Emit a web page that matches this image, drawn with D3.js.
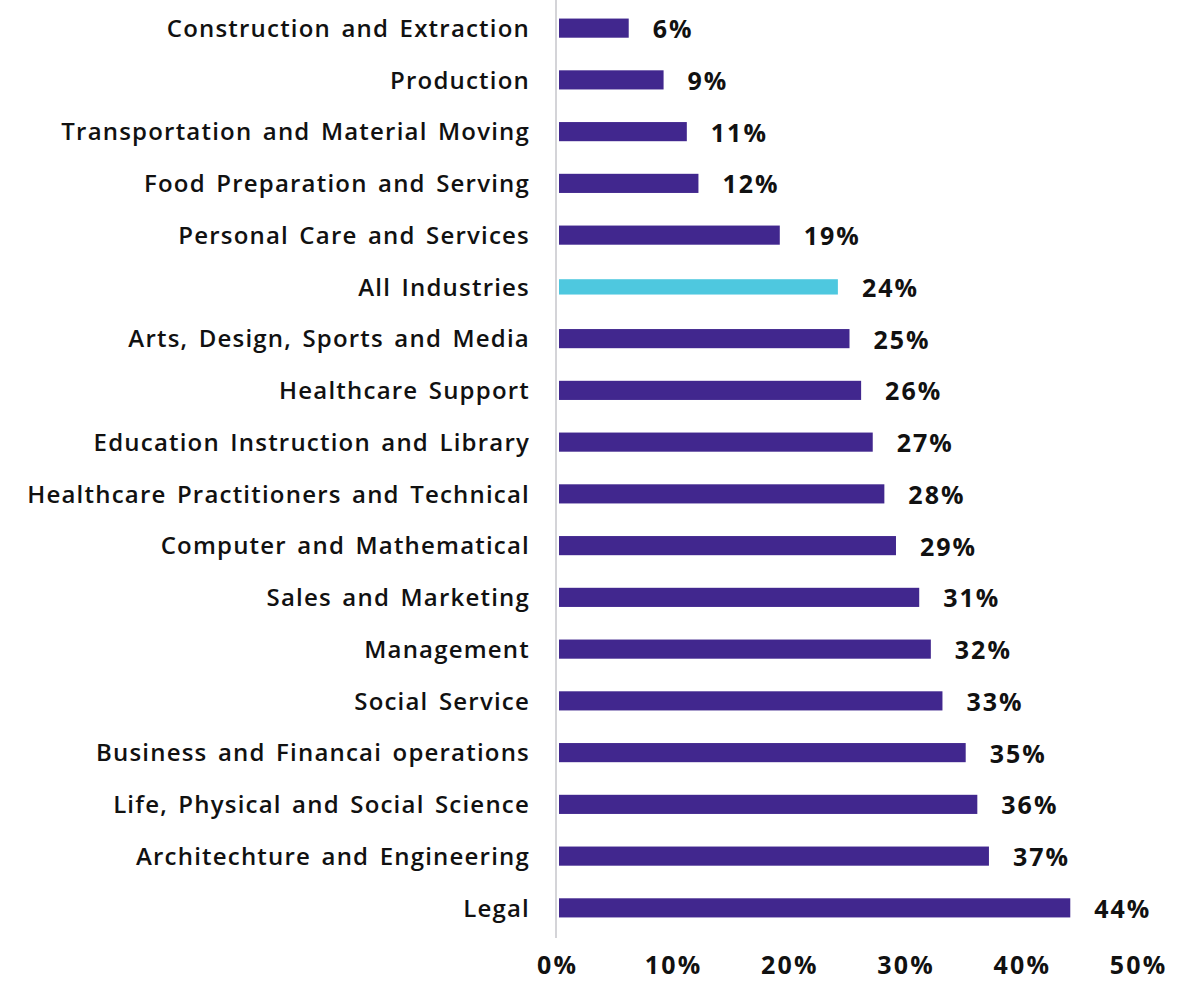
<!DOCTYPE html>
<html>
<head>
<meta charset="utf-8">
<script src="https://cdn.jsdelivr.net/npm/d3@7"></script>
<style>
  html, body { margin: 0; padding: 0; background: #ffffff; }
  svg { display: block; }
  text { font-family: "Open Sans", "Noto Sans", sans-serif; fill: #111111; }
</style>
</head>
<body>
<svg id="chart" width="1198" height="987"></svg>
<script>
// Share of workers by occupation group
const categories = [
  "Construction and Extraction",
  "Production",
  "Transportation and Material Moving",
  "Food Preparation and Serving",
  "Personal Care and Services",
  "All Industries",
  "Arts, Design, Sports and Media",
  "Healthcare Support",
  "Education Instruction and Library",
  "Healthcare Practitioners and Technical",
  "Computer and Mathematical",
  "Sales and Marketing",
  "Management",
  "Social Service",
  "Business and Financai operations",
  "Life, Physical and Social Science",
  "Architechture and Engineering",
  "Legal"
];
const values = [6, 9, 11, 12, 19, 24, 25, 26, 27, 28, 29, 31, 32, 33, 35, 36, 37, 44];
const highlight = ["All Industries"];
const tickValues = [0, 10, 20, 30, 40, 50];

const svg = d3.select("#chart");

const x = d3.scaleLinear().domain([0, 50]).range([559, 1140]);
const y = d3.scaleBand().domain(categories).range([2, 934]).paddingInner(0.63).paddingOuter(0.32);

const PURPLE = "#41278e";
const CYAN = "#4ec8df";

// vertical baseline
svg.append("line")
  .attr("x1", 556).attr("x2", 556)
  .attr("y1", 0).attr("y2", 938)
  .attr("stroke", "#d4d4d8").attr("stroke-width", 2);

const rows = svg.append("g").selectAll("g")
  .data(categories.map((c, i) => ({ c, v: values[i] })))
  .join("g");

rows.append("rect")
  .attr("x", x(0))
  .attr("y", d => {
    const h = highlight.includes(d.c) ? y.bandwidth() * 0.8 : y.bandwidth();
    return y(d.c) + (y.bandwidth() - h) / 2;
  })
  .attr("height", d => highlight.includes(d.c) ? y.bandwidth() * 0.8 : y.bandwidth())
  .attr("width", d => x(d.v) - x(0))
  .attr("fill", d => highlight.includes(d.c) ? CYAN : PURPLE);

rows.append("text")
  .attr("x", 530)
  .attr("y", d => y(d.c) + y.bandwidth() / 2)
  .attr("dy", "0.36em")
  .attr("text-anchor", "end")
  .attr("font-size", 24)
  .attr("font-weight", 600)
  .attr("letter-spacing", 1.2)
  .attr("word-spacing", 3)
  .text(d => d.c);

rows.append("text")
  .attr("x", d => x(d.v) + 24)
  .attr("y", d => y(d.c) + y.bandwidth() / 2 + 1)
  .attr("dy", "0.36em")
  .attr("font-size", 25)
  .attr("font-weight", 700)
  .attr("letter-spacing", 2)
  .text(d => d.v + "%");

// x axis labels
const axis = d3.axisBottom(x).tickValues(tickValues).tickFormat(d => d + "%").tickSize(0).tickPadding(0);
const gx = svg.append("g").attr("transform", "translate(-2,956)").call(axis);
gx.select(".domain").remove();
gx.selectAll("text")
  .attr("font-size", 25)
  .attr("font-weight", 700)
  .attr("letter-spacing", 2.2)
  .attr("fill", "#111111")
  .style("font-family", "'Open Sans', 'Noto Sans', sans-serif");
</script>
</body>
</html>
